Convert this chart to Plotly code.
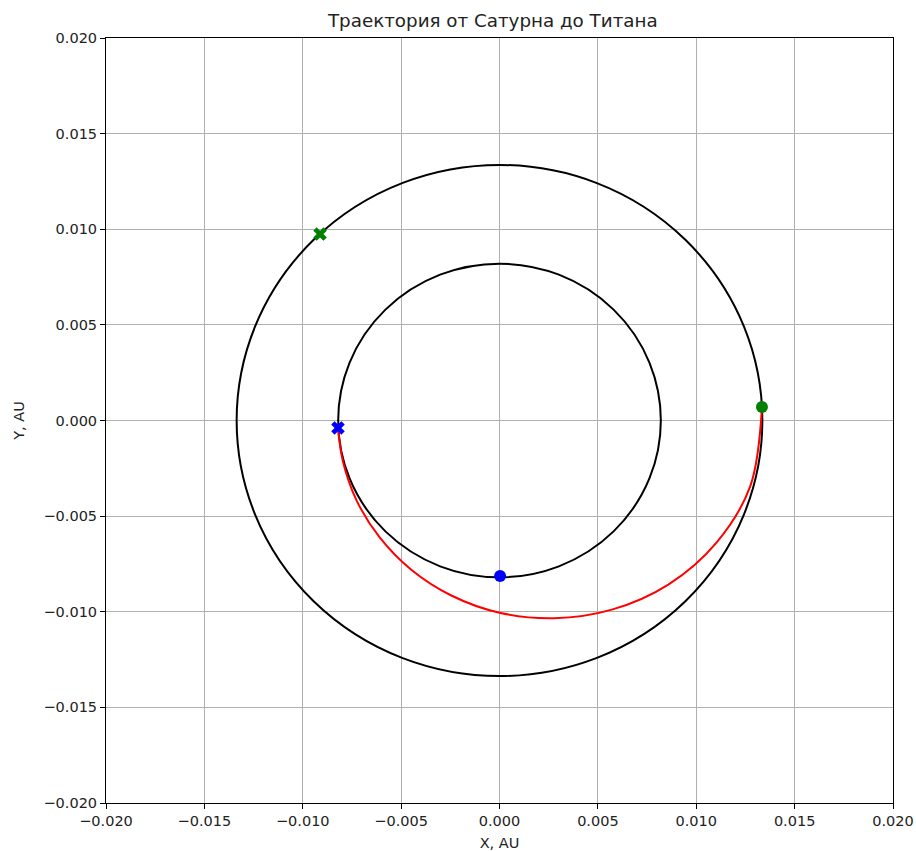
import plotly.graph_objects as go

# Orbit radii (AU), centred on Saturn at the origin
orbit_radii = [0.01336, 0.00820]

# Transfer trajectory points (AU)
traj_x = [0.01334, 0.01275, 0.01104, 0.00858, 0.00571, 0.00277, 0.0, -0.00245,
          -0.00450, -0.00610, -0.00726, -0.00796, -0.00821]
traj_y = [0.00070, -0.00342, -0.00637, -0.00858, -0.00989, -0.01034, -0.01005,
          -0.00915, -0.00779, -0.00610, -0.00419, -0.00213, -0.00039]

# Markers
green_x_pt = (-0.00912, 0.00975)
green_o_pt = (0.01334, 0.00070)
blue_x_pt = (-0.00821, -0.00039)
blue_o_pt = (0.00003, -0.00813)

tick_vals = [-0.02, -0.015, -0.01, -0.005, 0.0, 0.005, 0.01, 0.015, 0.02]

fig = go.Figure()

fig.add_trace(go.Scatter(x=traj_x, y=traj_y, mode="lines", line=dict(color="red", width=2, shape="spline"),
                         showlegend=False, hoverinfo="skip"))

def marker(pt, color, symbol):
    fig.add_trace(go.Scatter(x=[pt[0]], y=[pt[1]], mode="markers",
                             marker=dict(color=color, symbol=symbol, size=12, line=dict(width=0)),
                             showlegend=False))

marker(green_x_pt, "green", "x")
marker(green_o_pt, "green", "circle")
marker(blue_x_pt, "blue", "x")
marker(blue_o_pt, "blue", "circle")

for r in orbit_radii:
    fig.add_shape(type="circle", xref="x", yref="y", x0=-r, y0=-r, x1=r, y1=r,
                  line=dict(color="black", width=2), layer="between")

axis_common = dict(
    range=[-0.02, 0.02], tickvals=tick_vals, tickformat=".3f",
    showgrid=True, gridcolor="#b0b0b0", gridwidth=1,
    showline=True, linecolor="black", linewidth=1, mirror=True,
    ticks="outside", ticklen=5, tickcolor="black", automargin=False,
    zeroline=False, tickfont=dict(size=14.5, color="#222"),
)

fig.update_layout(
    width=916, height=851, autosize=False,
    margin=dict(l=106, r=23, t=38, b=48),
    paper_bgcolor="white", plot_bgcolor="white",
    font=dict(family="DejaVu Sans", color="#222"),
    title=dict(text="Траектория от Сатурна до Титана", x=0.538, xanchor="center",
               y=0.976, yanchor="middle", font=dict(size=18.3)),
    xaxis=dict(**axis_common, title=dict(text="X, AU", font=dict(size=14.5), standoff=11)),
    yaxis=dict(**axis_common, title=dict(text="Y, AU", font=dict(size=14.5), standoff=15)),
)

fig.write_html("out.html", config={"displayModeBar": False, "responsive": False},
               post_script="document.body.style.margin='0px';")
